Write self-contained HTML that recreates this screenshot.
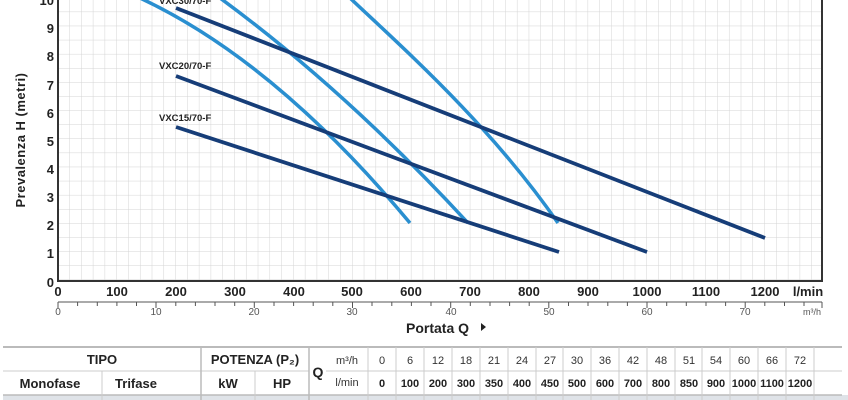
<!DOCTYPE html>
<html><head><meta charset="utf-8"><style>
body{margin:0;background:#fff;width:848px;height:400px;overflow:hidden;font-family:"Liberation Sans",sans-serif}
</style></head><body>
<svg width="848" height="400" xmlns="http://www.w3.org/2000/svg" style="position:absolute;left:0;top:0">
<defs>
<pattern id="g" x="58" y="-2" width="11.78" height="14.1" patternUnits="userSpaceOnUse">
<path d="M11.78 0V14.1M0 14.1H11.78" stroke="#d4d4d4" stroke-width="1" fill="none"/>
</pattern>
</defs>
<rect x="58" y="-2" width="764" height="282" fill="url(#g)"/>
<path d="M58 -2V281H822V-2" stroke="#333" stroke-width="2" fill="none"/>
<g stroke="#2a8fd0" stroke-width="3.5" fill="none" stroke-linecap="butt">
<path d="M140 -2C230 40 320 115 410 223"/>
<path d="M220 -2C303 59 385 133 468 223"/>
<path d="M350 -2C405 50 490 125 558 223"/>
</g>
<g stroke="#163d78" stroke-width="3.8" fill="none" stroke-linecap="butt">
<path d="M176 127L559 252"/>
<path d="M176 76L647 252"/>
<path d="M176 8L765 238"/>
</g>
<g font-size="9.5" font-weight="bold" fill="#222">
<text x="159" y="4">VXC30/70-F</text>
<text x="159" y="69">VXC20/70-F</text>
<text x="159" y="121">VXC15/70-F</text>
</g>
<g font-size="13" font-weight="bold" fill="#222" text-anchor="end">
<text x="54" y="5">10</text><text x="54" y="33">9</text><text x="54" y="61">8</text><text x="54" y="90">7</text><text x="54" y="118">6</text><text x="54" y="146">5</text><text x="54" y="174">4</text><text x="54" y="202">3</text><text x="54" y="230">2</text><text x="54" y="258">1</text><text x="54" y="287">0</text>
</g>
<text transform="translate(25,140) rotate(-90)" font-size="13" font-weight="bold" fill="#222" text-anchor="middle" letter-spacing="0.5">Prevalenza  H  (metri)</text>
<g font-size="13" font-weight="bold" fill="#222" text-anchor="middle">
<text x="58" y="296">0</text><text x="117" y="296">100</text><text x="176" y="296">200</text><text x="235" y="296">300</text><text x="294" y="296">400</text><text x="352" y="296">500</text><text x="411" y="296">600</text><text x="470" y="296">700</text><text x="529" y="296">800</text><text x="588" y="296">900</text><text x="647" y="296">1000</text><text x="706" y="296">1100</text><text x="765" y="296">1200</text>
<text x="808" y="296">l/min</text>
</g>
<path d="M58 302H822" stroke="#555" stroke-width="1"/>
<g stroke="#555" stroke-width="1">
<path d="M58 302v6M77.6 302v4M97.3 302v4M116.9 302v4M136.5 302v4M156 302v6M175.8 302v4M195.4 302v4M215 302v4M234.7 302v4M254.3 302v6M274 302v4M293.6 302v4M313.2 302v4M332.8 302v4M352.5 302v6M372 302v4M391.8 302v4M411.4 302v4M431 302v4M450.7 302v6M470.3 302v4M490 302v4M509.6 302v4M529.2 302v4M548.8 302v6M568.5 302v4M588 302v4M607.8 302v4M627.4 302v4M647 302v6M666.7 302v4M686.3 302v4M706 302v4M725.6 302v4M745.2 302v6M764.8 302v4M784.5 302v4M804 302v4M822 302v6"/>
</g>
<g font-size="10" fill="#555" text-anchor="middle">
<text x="58" y="315">0</text><text x="156" y="315">10</text><text x="254" y="315">20</text><text x="352" y="315">30</text><text x="451" y="315">40</text><text x="549" y="315">50</text><text x="647" y="315">60</text><text x="745" y="315">70</text><text x="812" y="315" font-size="9">m³/h</text>
</g>
<text x="406" y="333" font-size="14" font-weight="bold" fill="#222">Portata  Q</text>
<path d="M481 323l5 4-5 4z" fill="#222"/>
<rect x="3" y="395" width="845" height="5" fill="#dfe3e8"/>
<path d="M3 347H842" stroke="#bbb" stroke-width="2"/>
<path d="M3 395H842" stroke="#bbb" stroke-width="1.5"/>
<path d="M3 371H309M326 371H842" stroke="#ccc" stroke-width="1"/>
<g stroke="#bbb" stroke-width="1.5">
<path d="M201 347V400M309 347V400"/>
</g>
<g stroke="#ccc" stroke-width="1">
<path d="M102 371V400M255 371V400M368 347V400"/>
<path d="M396 347V400M424 347V400M452 347V400M480 347V400M508 347V400M536 347V400M563 347V400M591 347V400M619 347V400M647 347V400M675 347V400M702 347V400M730 347V400M758 347V400M786 347V400M814 347V400"/>
</g>
<g font-size="13" font-weight="bold" fill="#222" text-anchor="middle">
<text x="102" y="364">TIPO</text><text x="255" y="364">POTENZA (P₂)</text>
<text x="50" y="388">Monofase</text><text x="136" y="388">Trifase</text><text x="228" y="388">kW</text><text x="282" y="388">HP</text>
<text x="318" y="377" font-size="14">Q</text>
</g>
<g font-size="11" fill="#333" text-anchor="middle">
<text x="347" y="364">m³/h</text><text x="347" y="386">l/min</text>
</g>
<g font-size="11" fill="#333" text-anchor="middle">
<text x="382" y="364">0</text><text x="410" y="364">6</text><text x="438" y="364">12</text><text x="466" y="364">18</text><text x="494" y="364">21</text><text x="522" y="364">24</text><text x="550" y="364">27</text><text x="577" y="364">30</text><text x="605" y="364">36</text><text x="633" y="364">42</text><text x="661" y="364">48</text><text x="689" y="364">51</text><text x="716" y="364">54</text><text x="744" y="364">60</text><text x="772" y="364">66</text><text x="800" y="364">72</text>
</g>
<g font-size="11" font-weight="bold" fill="#222" text-anchor="middle">
<text x="382" y="387">0</text><text x="410" y="387">100</text><text x="438" y="387">200</text><text x="466" y="387">300</text><text x="494" y="387">350</text><text x="522" y="387">400</text><text x="550" y="387">450</text><text x="577" y="387">500</text><text x="605" y="387">600</text><text x="633" y="387">700</text><text x="661" y="387">800</text><text x="689" y="387">850</text><text x="716" y="387">900</text><text x="744" y="387">1000</text><text x="772" y="387">1100</text><text x="800" y="387">1200</text>
</g>
</svg>
</body></html>
